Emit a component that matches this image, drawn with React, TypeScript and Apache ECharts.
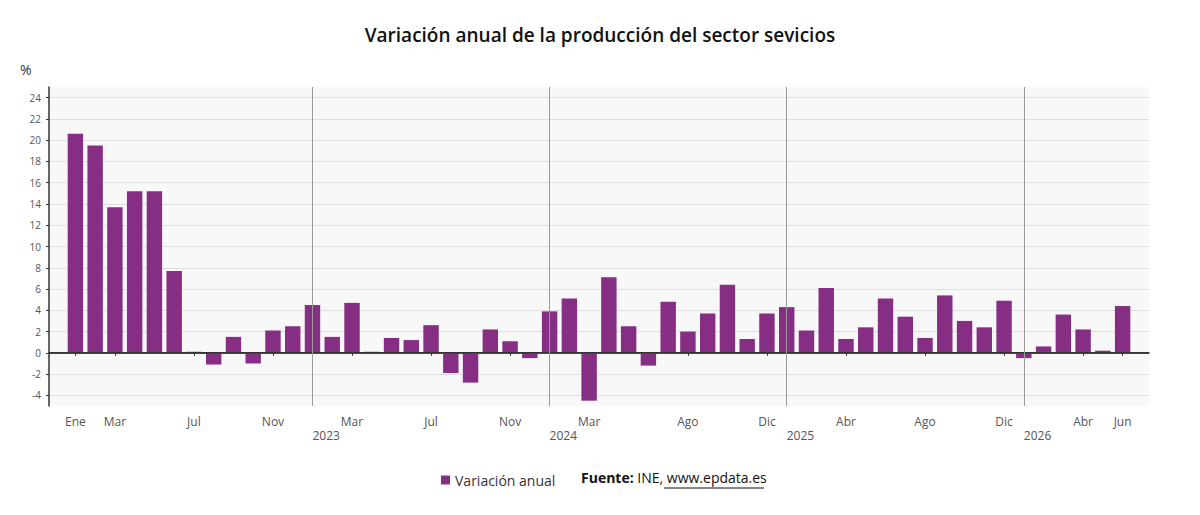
import React, { useEffect, useRef } from "react";
import * as echarts from "echarts";

// Months shown on the axis (Ene 2022 .. Jun 2026)
const monthNames = ["Ene", "Feb", "Mar", "Abr", "May", "Jun", "Jul", "Ago", "Sep", "Oct", "Nov", "Dic"];
const years = [2022, 2023, 2024, 2025, 2026];
const categories = years
    .flatMap((y) => monthNames.map((m) => `${m} ${y}`))
    .slice(0, 54);

// Annual change, %
const values2022 = [20.6, 19.5, 13.7, 15.2, 15.2, 7.7, 0.1, -1.1, 1.5, -1.0, 2.1, 2.5];
const values2023 = [4.5, 1.5, 4.7, 0.1, 1.4, 1.2, 2.6, -1.9, -2.8, 2.2, 1.1, -0.5];
const values2024 = [3.9, 5.1, -4.5, 7.1, 2.5, -1.2, 4.8, 2.0, 3.7, 6.4, 1.3, 3.7];
const values2025 = [4.3, 2.1, 6.1, 1.3, 2.4, 5.1, 3.4, 1.4, 5.4, 3.0, 2.4, 4.9];
const values2026 = [-0.5, 0.6, 3.6, 2.2, 0.2, 4.4];
const seriesValues = [...values2022, ...values2023, ...values2024, ...values2025, ...values2026];

// Labelled months on the x axis
const labeledMonths = [
    "Ene 2022", "Mar 2022", "Jul 2022", "Nov 2022",
    "Mar 2023", "Jul 2023", "Nov 2023",
    "Mar 2024", "Ago 2024", "Dic 2024",
    "Abr 2025", "Ago 2025", "Dic 2025",
    "Abr 2026", "Jun 2026",
];

// Year dividers
const yearStarts = ["Ene 2023", "Ene 2024", "Ene 2025", "Ene 2026"];
const yearLabels = ["2023", "2024", "2025", "2026"];

const yTicks = [-4, -2, 0, 2, 4, 6, 8, 10, 12, 14, 16, 18, 20, 22, 24];
const yMin = -5;
const yMax = 25;

const font = "'Open Sans', 'DejaVu Sans', sans-serif";

const App = () => {
    const chartRef = useRef<HTMLDivElement>(null);

    useEffect(() => {
        if (!chartRef.current) return;
        const chart = echarts.init(chartRef.current, null, { renderer: "svg" });

        const option = {
            animation: false,
            textStyle: { fontFamily: font },
            title: {
                text: "Variación anual de la producción del sector sevicios",
                left: "center",
                top: 20,
                textStyle: { fontSize: 19, fontWeight: 600, color: "#111", fontFamily: font },
            },
            legend: {
                data: ["Variación anual"],
                left: 436,
                top: 468,
                icon: "rect",
                itemWidth: 9,
                itemHeight: 9,
                itemGap: 6,
                textStyle: { fontSize: 14, color: "#333", fontFamily: font },
            },
            grid: [
                // outer frame: background, y axis, grid lines
                {
                    left: 49,
                    right: 51,
                    top: 87,
                    bottom: 109,
                    show: true,
                    backgroundColor: "#f8f8f8",
                    borderWidth: 0,
                },
                // bars, padded inside the frame
                { left: 65.5, right: 67.5, top: 87, bottom: 109 },
            ],
            xAxis: [
                {
                    gridIndex: 0,
                    type: "value",
                    min: 0,
                    max: 1,
                    axisLine: { show: true, lineStyle: { color: "#333", width: 1.5 } },
                    axisTick: { show: false },
                    axisLabel: { show: false },
                    splitLine: { show: false },
                },
                {
                    gridIndex: 1,
                    type: "category",
                    data: categories,
                    axisLine: { show: false },
                    axisTick: {
                        show: true,
                        alignWithLabel: true,
                        length: 3,
                        interval: (_i: number, v: string) => labeledMonths.includes(v),
                        lineStyle: { color: "#333" },
                    },
                    axisLabel: {
                        interval: (_i: number, v: string) => labeledMonths.includes(v),
                        formatter: (v: string) => v.split(" ")[0],
                        color: "#555",
                        fontSize: 12,
                        margin: 9,
                    },
                },
            ],
            yAxis: [
                {
                    gridIndex: 0,
                    type: "value",
                    min: yMin,
                    max: yMax,
                    axisLine: { show: true, lineStyle: { color: "#333", width: 1.5 } },
                    axisTick: { show: true, customValues: yTicks, length: 3, lineStyle: { color: "#333" } },
                    axisLabel: { customValues: yTicks, color: "#555", fontSize: 10, margin: 8 },
                    splitLine: { show: true, lineStyle: { color: "#dedede", width: 1 } },
                },
                { gridIndex: 1, type: "value", min: yMin, max: yMax, show: false },
            ],
            graphic: [
                {
                    type: "text",
                    left: 20,
                    top: 62,
                    style: { text: "%", fontSize: 14, fontWeight: "normal", fill: "#333", fontFamily: font },
                },
                {
                    type: "text",
                    left: 581,
                    top: 470,
                    style: {
                        text: "{b|Fuente:} INE, www.epdata.es",
                        fontSize: 14,
                        fill: "#111",
                        fontFamily: font,
                        rich: { b: { fontWeight: "bold", fontSize: 14, fill: "#111", fontFamily: font } },
                    },
                },
                {
                    type: "line",
                    shape: { x1: 664, y1: 488, x2: 764, y2: 488 },
                    style: { stroke: "#111", lineWidth: 1 },
                },
            ],
            series: [
                {
                    name: "Variación anual",
                    type: "bar",
                    xAxisIndex: 1,
                    yAxisIndex: 1,
                    data: seriesValues,
                    barCategoryGap: "22%",
                    itemStyle: { color: "#862e84" },
                    z: 2,
                    markLine: {
                        silent: true,
                        symbol: "none",
                        z: 4,
                        lineStyle: { color: "#9a9a9a", width: 1, type: "solid" },
                        label: {
                            show: true,
                            position: "start",
                            align: "left",
                            distance: 23,
                            color: "#555",
                            fontSize: 12,
                            fontFamily: font,
                        },
                        data: yearStarts.map((c, i) => ({
                            xAxis: c,
                            label: { formatter: yearLabels[i] },
                        })),
                    },
                },
                {
                    // zero line
                    name: "cero",
                    type: "line",
                    xAxisIndex: 0,
                    yAxisIndex: 0,
                    data: [
                        [0, 0],
                        [1, 0],
                    ],
                    symbol: "none",
                    silent: true,
                    z: 3,
                    lineStyle: { color: "#333", width: 1.5 },
                },
            ],
        };

        chart.setOption(option);
        return () => {
            chart.dispose();
        };
    }, []);

    return (
        <div
            ref={chartRef}
            style={{ position: "fixed", left: 0, top: 0, width: "1200px", height: "515px", background: "#fff" }}
        />
    );
};

export default App;
